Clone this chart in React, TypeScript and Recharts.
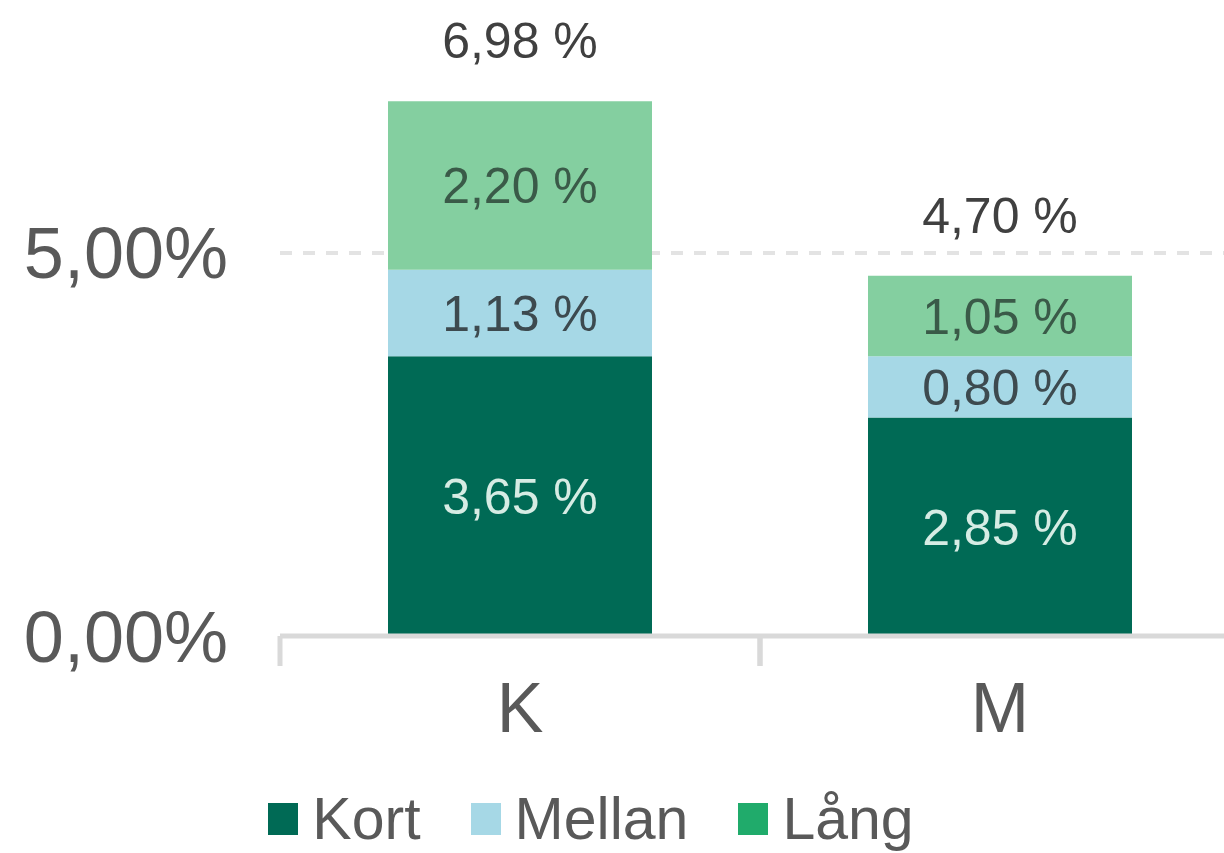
import React from 'react';
import { BarChart, Bar, XAxis, YAxis, CartesianGrid, LabelList, Legend } from 'recharts';

const categories = ['K', 'M'];
const kort = [3.65, 2.85];
const mellan = [1.13, 0.8];
const lang = [2.2, 1.05];
const yTicks = [0, 5];
const gridValues = [5];

const seriesNames = ['Kort', 'Mellan', 'Lång'];
const seriesColors = ['#006a55', '#a6d8e6', '#84cfa0'];
const legendColors = ['#006a55', '#a6d8e6', '#20ab6b'];

const data = categories.map((name, i) => ({
  name,
  kort: kort[i],
  mellan: mellan[i],
  lang: lang[i],
  total: kort[i] + mellan[i] + lang[i],
}));

const FONT = '"Liberation Sans", Arial, sans-serif';
const fmtLabel = (v: any) => Number(v).toFixed(2).replace('.', ',') + ' %';
const fmtAxis = (v: any) => Number(v).toFixed(2).replace('.', ',') + '%';

const TICK_MARGIN = 46;
const TICK_LEN = 30;

const CategoryTick = (props: any) => {
  const { x, y, payload } = props;
  const half = payload && payload.offset ? payload.offset : 0;
  const axisY = y - TICK_MARGIN;
  const left = x - half;
  const right = x + half;
  return (
    <g>
      <line x1={left} x2={left} y1={axisY} y2={axisY + TICK_LEN} stroke="#d9d9d9" strokeWidth={5} />
      <line x1={right} x2={right} y1={axisY} y2={axisY + TICK_LEN} stroke="#d9d9d9" strokeWidth={5} />
      <text
        x={x}
        y={y}
        dy="0.71em"
        textAnchor="middle"
        fill="#595959"
        fontSize={70}
        fontFamily={FONT}
      >
        {payload.value}
      </text>
    </g>
  );
};

const renderLegend = () => (
  <div
    style={{
      display: 'flex',
      justifyContent: 'center',
      alignItems: 'center',
      height: 60,
      fontFamily: FONT,
      fontSize: 59,
      color: '#595959',
    }}
  >
    {seriesNames.map((n, i) => (
      <div key={n} style={{ display: 'flex', alignItems: 'center', marginLeft: i === 0 ? 0 : 50 }}>
        <div style={{ width: 30, height: 32, background: legendColors[i], marginRight: 14 }} />
        <span style={{ lineHeight: '60px', whiteSpace: 'nowrap' }}>{n}</span>
      </div>
    ))}
  </div>
);

export default function App() {
  return (
    <div
      style={{
        position: 'absolute',
        left: 0,
        top: 0,
        width: 1224,
        height: 853,
        overflow: 'hidden',
        background: '#ffffff',
      }}
    >
      <BarChart
        width={1240}
        height={853}
        data={data}
        margin={{ top: 23, right: 0, left: 0, bottom: 57 }}
        style={{ fontFamily: FONT }}
      >
        <CartesianGrid
          vertical={false}
          horizontalValues={gridValues}
          stroke="#e3e3e3"
          strokeWidth={4}
          strokeDasharray="12 11"
        />
        <XAxis
          dataKey="name"
          height={100}
          interval={0}
          axisLine={{ stroke: '#d9d9d9', strokeWidth: 5 }}
          tickLine={false}
          tickSize={0}
          tickMargin={TICK_MARGIN}
          tick={CategoryTick}
        />
        <YAxis
          width={280}
          domain={[0, 8]}
          ticks={yTicks}
          tickFormatter={fmtAxis}
          axisLine={false}
          tickLine={false}
          tickSize={0}
          tickMargin={52}
          tick={{ fontSize: 72, fill: '#595959', fontFamily: FONT }}
        />
        <Legend
          content={renderLegend}
          wrapperStyle={{ top: 789, left: 0, width: 1182, height: 60 }}
        />
        <Bar dataKey="kort" name="Kort" stackId="a" fill={seriesColors[0]} barSize={264} isAnimationActive={false}>
          <LabelList dataKey="kort" position="center" formatter={fmtLabel} fill="#d6ece4" fontSize={50} fontFamily={FONT} />
        </Bar>
        <Bar dataKey="mellan" name="Mellan" stackId="a" fill={seriesColors[1]} barSize={264} isAnimationActive={false}>
          <LabelList dataKey="mellan" position="center" formatter={fmtLabel} fill="#3d4a4f" fontSize={50} fontFamily={FONT} />
        </Bar>
        <Bar dataKey="lang" name="Lång" stackId="a" fill={seriesColors[2]} barSize={264} isAnimationActive={false}>
          <LabelList dataKey="lang" position="center" formatter={fmtLabel} fill="#3a5a48" fontSize={50} fontFamily={FONT} />
          <LabelList dataKey="total" position="top" offset={43} formatter={fmtLabel} fill="#404040" fontSize={50} fontFamily={FONT} />
        </Bar>
      </BarChart>
    </div>
  );
}
